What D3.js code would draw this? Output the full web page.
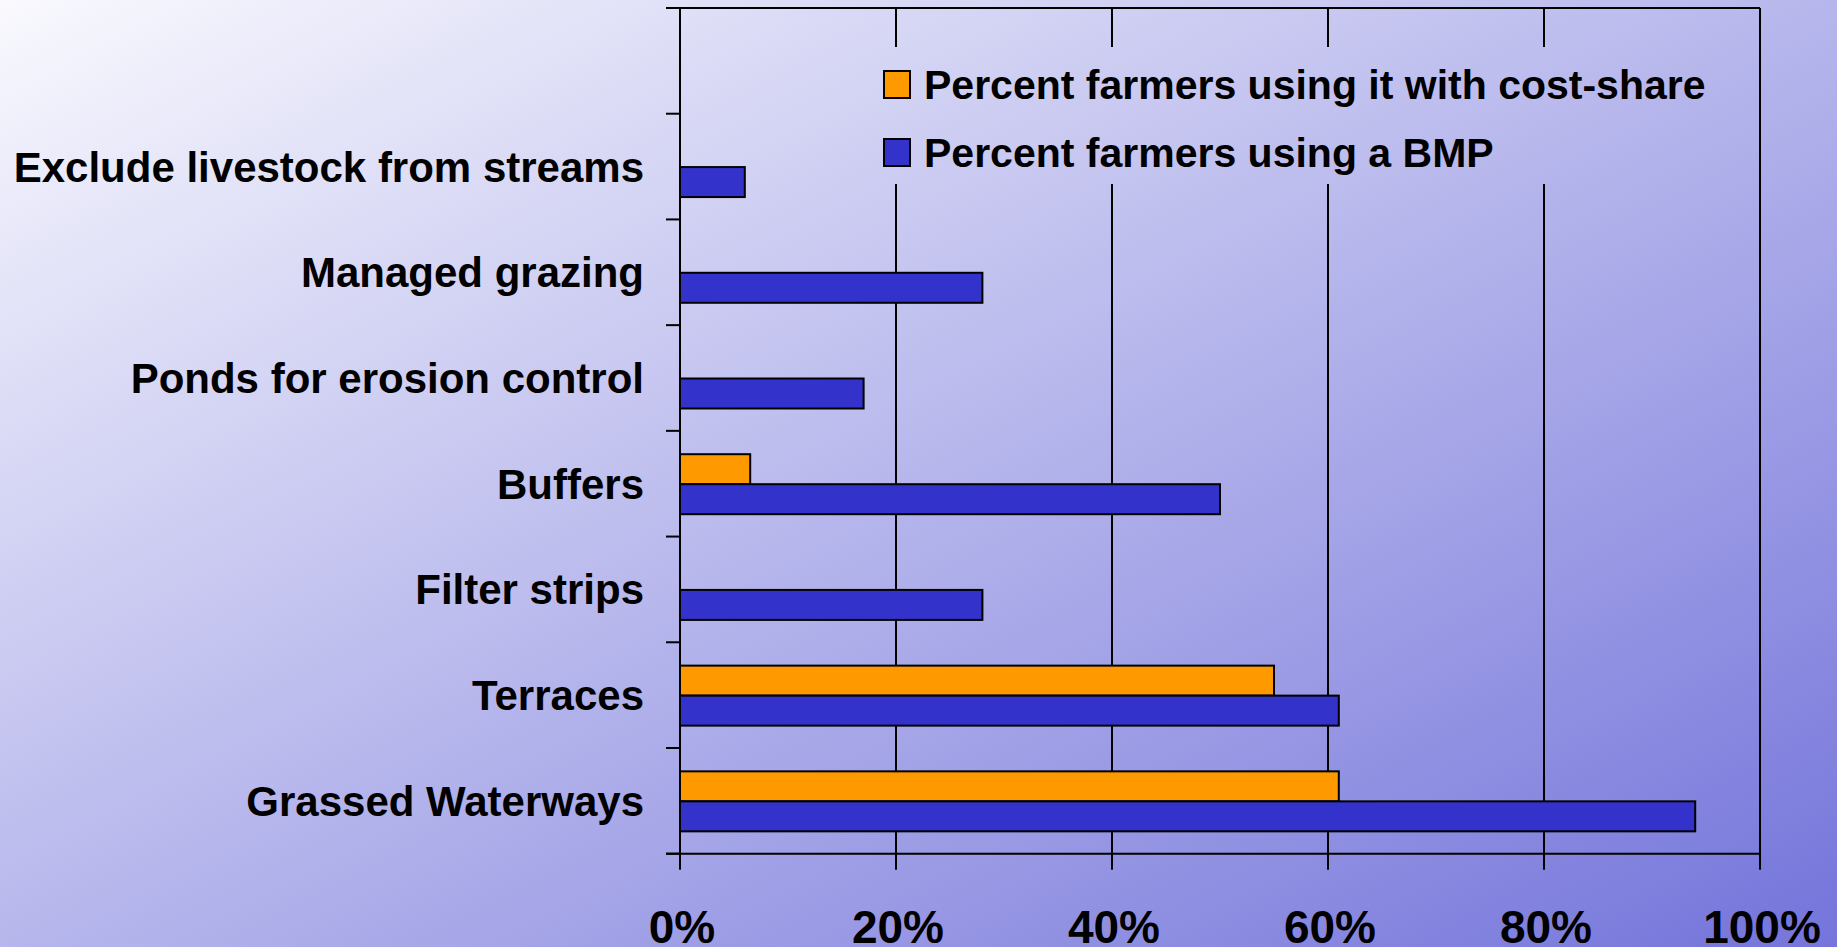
<!DOCTYPE html>
<html>
<head>
<meta charset="utf-8">
<script src="https://cdn.jsdelivr.net/npm/d3@7"></script>
<style>
  html, body { margin: 0; padding: 0; overflow: hidden; }
  svg { display: block; }
  text { font-family: "Liberation Sans", Arial, sans-serif; font-weight: bold; fill: #000; }
</style>
</head>
<body>
<script>
const categories = ["Exclude livestock from streams", "Managed grazing", "Ponds for erosion control", "Buffers", "Filter strips", "Terraces", "Grassed Waterways"];
const costShareValues = [0, 0, 0, 6.5, 0, 55, 61];
const bmpValues = [6, 28, 17, 50, 28, 61, 94];
const seriesNames = ["Percent farmers using it with cost-share", "Percent farmers using a BMP"];
const seriesColors = ["#FF9900", "#3333CC"];
const xTicks = [0, 20, 40, 60, 80, 100];

const W = 1837, H = 947;
const plot = { left: 680, right: 1760, top: 8, bottom: 853.7 };

const svg = d3.select("body").append("svg").attr("width", W).attr("height", H);
const defs = svg.append("defs");
const grad = defs.append("linearGradient").attr("id", "bg")
  .attr("gradientUnits", "userSpaceOnUse")
  .attr("x1", 0).attr("y1", 0).attr("x2", 1).attr("y2", 1)
  .attr("gradientTransform", `scale(${W},${H})`);
grad.append("stop").attr("offset", 0).attr("stop-color", "#f9f9fe");
grad.append("stop").attr("offset", 1).attr("stop-color", "#7474db");

svg.append("rect").attr("width", W).attr("height", H).attr("fill", "url(#bg)");

const x = d3.scaleLinear().domain([0, 100]).range([plot.left, plot.right]);
const yDomain = [""].concat(categories);
const y = d3.scaleBand().domain(yDomain).range([plot.top, plot.bottom]).padding(0);
const ySub = d3.scaleBand().domain(seriesNames).range([-29.5, 30.5]).padding(0);

const g = svg.append("g");
const lineColor = "#000";

// gridlines (vertical) with ticks below
g.selectAll("line.grid").data(xTicks.slice(1)).join("line")
  .attr("x1", d => x(d)).attr("x2", d => x(d))
  .attr("y1", plot.top).attr("y2", plot.bottom + 16)
  .attr("stroke", lineColor).attr("stroke-width", 2);

// legend box (hides gridlines behind it)
const legend = svg.append("g");
legend.append("rect").attr("x", 866).attr("y", 47).attr("width", 876).attr("height", 137)
  .attr("fill", "url(#bg)");
seriesNames.forEach((name, i) => {
  const ly = 71 + i * 68;
  legend.append("rect").attr("x", 884).attr("y", ly).attr("width", 26).attr("height", 27)
    .attr("fill", seriesColors[i]).attr("stroke", "#000").attr("stroke-width", 2);
  legend.append("text").attr("x", 924).attr("y", ly + 28)
    .attr("font-size", 41).text(name);
});

// top border
g.append("line").attr("x1", plot.left - 14).attr("x2", plot.right)
  .attr("y1", plot.top).attr("y2", plot.top)
  .attr("stroke", lineColor).attr("stroke-width", 2);

// bars
const series = [costShareValues, bmpValues];
series.forEach((vals, si) => {
  svg.append("g").selectAll("rect")
    .data(categories.map((c, i) => ({ c, v: vals[i] })).filter(d => d.v > 0))
    .join("rect")
    .attr("x", x(0))
    .attr("y", d => y(d.c) + y.bandwidth() / 2 + ySub(seriesNames[si]))
    .attr("width", d => x(d.v) - x(0))
    .attr("height", ySub.bandwidth())
    .attr("fill", seriesColors[si])
    .attr("stroke", "#000").attr("stroke-width", 2);
});

// left axis line
svg.append("line").attr("x1", plot.left).attr("x2", plot.left)
  .attr("y1", plot.top).attr("y2", plot.bottom + 16)
  .attr("stroke", lineColor).attr("stroke-width", 2);
// bottom axis line
svg.append("line").attr("x1", plot.left - 14).attr("x2", plot.right)
  .attr("y1", plot.bottom).attr("y2", plot.bottom)
  .attr("stroke", lineColor).attr("stroke-width", 2);

// category ticks
const boundaries = yDomain.map(d => y(d)).concat([plot.bottom]);
svg.append("g").selectAll("line").data(boundaries).join("line")
  .attr("x1", plot.left - 14).attr("x2", plot.left)
  .attr("y1", d => d).attr("y2", d => d)
  .attr("stroke", lineColor).attr("stroke-width", 2);

// category labels
svg.append("g").selectAll("text").data(categories).join("text")
  .attr("x", 644)
  .attr("y", d => y(d) + y.bandwidth() / 2 + 15)
  .attr("text-anchor", "end")
  .attr("font-size", 42)
  .text(d => d);

// x tick labels
svg.append("g").selectAll("text").data(xTicks).join("text")
  .attr("x", d => x(d) + 2)
  .attr("y", 943)
  .attr("text-anchor", "middle")
  .attr("font-size", 46)
  .text(d => d + "%");
</script>
</body>
</html>
